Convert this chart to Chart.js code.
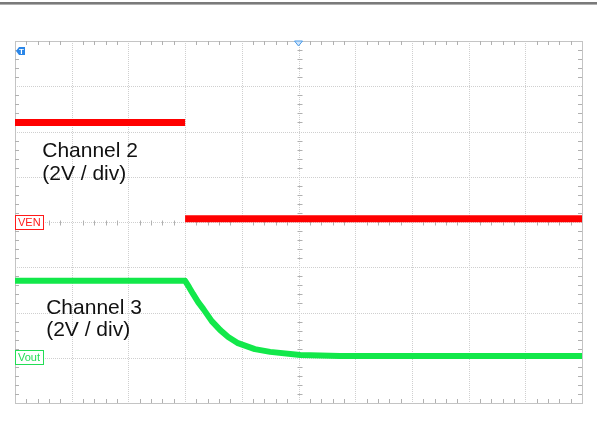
<!DOCTYPE html>
<html>
<head>
<meta charset="utf-8">
<script src="https://cdn.jsdelivr.net/npm/chart.js@4.4.1/dist/chart.umd.min.js"></script>
<style>
html,body{margin:0;padding:0;background:#fff;}
#wrap{width:597px;height:421px;position:relative;}
</style>
</head>
<body>
<div id="wrap"><canvas id="c" width="597" height="421"></canvas></div>
<script>
// Horizontal axis: time in divisions (0..10), vertical axis: screen divisions (0..8)
const xDivisions = [0, 1, 2, 3, 4, 5, 6, 7, 8, 9, 10];
const yDivisions = [0, 1, 2, 3, 4, 5, 6, 7, 8];

// Channel 2 (VEN) trace, in divisions
const ch2Time  = [0, 3.0, 3.0, 3.0, 10];
const ch2Level = [6.20, 6.20, null, 4.07, 4.07];

// Channel 3 (Vout) trace, in divisions
const ch3Time  = [0, 3.00, 3.07, 3.14, 3.23, 3.32, 3.47, 3.62, 3.76, 3.92, 4.23, 4.50, 5.03, 5.73, 10];
const ch3Level = [2.70, 2.70, 2.56, 2.41, 2.23, 2.08, 1.81, 1.61, 1.46, 1.33, 1.19, 1.13, 1.06, 1.04, 1.04];

// Channel annotations
const channelLabels = [
  {lines: ['Channel 2', '(2V / div)'], x: 0.48, y: 5.43},
  {lines: ['Channel 3', '(2V / div)'], x: 0.55, y: 1.97}
];
const groundMarkers = [
  {text: 'VEN', y: 4.0, color: '#ff1a1a'},
  {text: 'Vout', y: 1.02, color: '#22dd55'}
];

function toPts(xs, ys){ return xs.map((x,i)=>({x:x, y:ys[i]})); }

const scopePlugin = {
  id: 'scope',
  beforeDraw(chart){
    const ctx = chart.ctx;
    const xs = chart.scales.x, ys = chart.scales.y;
    const L = xs.getPixelForValue(0), R = xs.getPixelForValue(10);
    const T = ys.getPixelForValue(8), B = ys.getPixelForValue(0);
    ctx.save();
    // top bar
    ctx.fillStyle = '#7a7a7a'; ctx.fillRect(0, 2, 597, 2);
    ctx.fillStyle = '#b0b0b0'; ctx.fillRect(0, 4, 597, 1);
    // dotted grid
    ctx.strokeStyle = '#cfcfcf'; ctx.lineWidth = 1; ctx.setLineDash([1, 1]);
    xDivisions.slice(1, -1).forEach(v=>{
      const p = Math.round(xs.getPixelForValue(v)) + 0.5;
      ctx.beginPath(); ctx.moveTo(p, T); ctx.lineTo(p, B); ctx.stroke();
    });
    yDivisions.slice(1, -1).forEach(v=>{
      const p = Math.round(ys.getPixelForValue(v)) + 0.5;
      ctx.beginPath(); ctx.moveTo(L, p); ctx.lineTo(R, p); ctx.stroke();
    });
    ctx.setLineDash([]);
    // border
    ctx.strokeStyle = '#c4c4c4';
    ctx.strokeRect(Math.round(L)+0.5, Math.round(T)+0.5, Math.round(R-L), Math.round(B-T));
    // minor ticks
    ctx.strokeStyle = '#b0b0b0';
    const cx = Math.round(xs.getPixelForValue(5)) + 0.5;
    const cy = Math.round(ys.getPixelForValue(4)) + 0.5;
    for (let v = 0.2; v < 10; v += 0.2){
      if (Math.abs(v - Math.round(v)) < 0.01) continue;
      const p = Math.round(xs.getPixelForValue(v)) + 0.5;
      ctx.beginPath();
      ctx.moveTo(p, T); ctx.lineTo(p, T+4);
      ctx.moveTo(p, B); ctx.lineTo(p, B-4);
      ctx.moveTo(p, cy-2); ctx.lineTo(p, cy+3);
      ctx.stroke();
    }
    for (let v = 0.2; v < 8; v += 0.2){
      if (Math.abs(v - Math.round(v)) < 0.01) continue;
      const p = Math.round(ys.getPixelForValue(v)) + 0.5;
      ctx.beginPath();
      ctx.moveTo(L, p); ctx.lineTo(L+4, p);
      ctx.moveTo(R, p); ctx.lineTo(R-4, p);
      ctx.moveTo(cx-2, p); ctx.lineTo(cx+3, p);
      ctx.stroke();
    }
    ctx.restore();
  },
  afterDraw(chart){
    const ctx = chart.ctx;
    const xs = chart.scales.x, ys = chart.scales.y;
    const L = xs.getPixelForValue(0), T = ys.getPixelForValue(8);
    ctx.save();
    // channel text
    ctx.fillStyle = '#111';
    ctx.font = '21px "Liberation Sans", Arial, sans-serif';
    ctx.textBaseline = 'alphabetic';
    channelLabels.forEach(lb=>{
      const px = xs.getPixelForValue(lb.x), py = ys.getPixelForValue(lb.y);
      lb.lines.forEach((t,i)=> ctx.fillText(t, px, py + i*22.5));
    });
    // ground markers
    ctx.font = '11px "Liberation Sans Narrow", "Liberation Sans", Arial, sans-serif';
    ctx.textBaseline = 'middle';
    groundMarkers.forEach(m=>{
      const py = ys.getPixelForValue(m.y);
      const w = Math.ceil(ctx.measureText(m.text).width) + 5;
      const x0 = Math.round(L) + 0.5, y0 = Math.round(py - 7) + 0.5;
      ctx.fillStyle = '#fff'; ctx.fillRect(x0, y0, w, 14);
      ctx.strokeStyle = m.color; ctx.lineWidth = 1; ctx.strokeRect(x0, y0, w, 14);
      ctx.fillStyle = m.color; ctx.fillText(m.text, x0 + 2.5, y0 + 7.5);
    });
    // trigger level marker (T)
    ctx.fillStyle = '#2a86e8';
    ctx.beginPath();
    ctx.moveTo(L+1, T+10); ctx.lineTo(L+4, T+6); ctx.lineTo(L+10, T+6);
    ctx.lineTo(L+10, T+14); ctx.lineTo(L+4, T+14); ctx.closePath(); ctx.fill();
    ctx.fillStyle = '#fff';
    ctx.font = 'bold 8px "Liberation Sans", Arial, sans-serif';
    ctx.textAlign = 'center';
    ctx.fillText('T', L+6.5, T+10.5);
    // trigger position marker
    const tx = xs.getPixelForValue(5);
    ctx.fillStyle = '#cfe4fb'; ctx.strokeStyle = '#4a9be8'; ctx.lineWidth = 1;
    ctx.beginPath();
    ctx.moveTo(tx-4, T); ctx.lineTo(tx+4, T); ctx.lineTo(tx, T+5); ctx.closePath();
    ctx.fill(); ctx.stroke();
    ctx.restore();
  }
};

new Chart(document.getElementById('c'), {
  type: 'line',
  data: {
    datasets: [
      {
        label: 'VEN',
        data: toPts(ch2Time, ch2Level),
        borderColor: '#ff0000',
        borderWidth: 7,
        borderCapStyle: 'butt',
        pointRadius: 0,
        spanGaps: false,
        tension: 0
      },
      {
        label: 'Vout',
        data: toPts(ch3Time, ch3Level),
        borderColor: '#12e84a',
        borderWidth: 6,
        borderCapStyle: 'butt',
        borderJoinStyle: 'round',
        pointRadius: 0,
        tension: 0
      }
    ]
  },
  options: {
    responsive: false,
    animation: false,
    events: [],
    layout: {padding: {left: 15, right: 15, top: 41, bottom: 18}},
    plugins: {legend: {display: false}, tooltip: {enabled: false}},
    scales: {
      x: {type: 'linear', min: 0, max: 10, display: false},
      y: {type: 'linear', min: 0, max: 8, display: false}
    }
  },
  plugins: [scopePlugin]
});
</script>
</body>
</html>
